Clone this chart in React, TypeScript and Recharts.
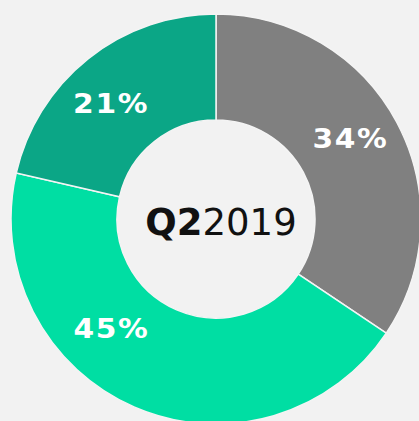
import React from "react";
import { PieChart, Pie, Cell, Label } from "recharts";

const categories = ["A", "B", "C"];
const values = [34.4, 44.2, 21.4];
const labels = ["34%", "45%", "21%"];
const colors = ["#808080", "#00dea3", "#0ba686"];
const labelAngleShift = [3.1, -20.6, 3.9];
const labelRadius = [156, 152, 157];

const data = categories.map((name, i) => ({ name, value: values[i] }));

const RADIAN = Math.PI / 180;

const renderLabel = (props: any) => {
  const { cx, cy, midAngle, index } = props;
  const r = labelRadius[index];
  const a = (midAngle + labelAngleShift[index]) * RADIAN;
  const x = cx + r * Math.cos(a);
  const y = cy - r * Math.sin(a);
  return (
    <text
      x={0}
      y={0}
      transform={`translate(${x + 1}, ${y + 10}) scale(1.1, 1)`}
      textAnchor="middle"
      fill="#ffffff"
      fontFamily="DejaVu Sans, Verdana, sans-serif"
      fontWeight="bold"
      fontSize={27}
      letterSpacing={1.5}
    >
      {labels[index]}
    </text>
  );
};

const CenterLabel = (props: any) => {
  const vb = props.viewBox || {};
  const cx = vb.cx ?? 216;
  const cy = vb.cy ?? 219;
  return (
    <text
      x={cx + 5}
      y={cy + 16}
      textAnchor="middle"
      fontFamily="DejaVu Sans, Verdana, sans-serif"
      fontSize={37}
      fill="#111111"
    >
      <tspan fontWeight="bold">Q2</tspan>
      <tspan>2019</tspan>
    </text>
  );
};

export default function App() {
  return (
    <div
      style={{
        position: "absolute",
        left: 0,
        top: 0,
        width: 419,
        height: 421,
        background: "#f2f2f2",
        overflow: "hidden",
      }}
    >
      <PieChart width={419} height={421} margin={{ top: 0, right: 0, bottom: 0, left: 0 }}>
        <Pie
          data={data}
          dataKey="value"
          nameKey="name"
          cx={216}
          cy={219}
          innerRadius={99}
          outerRadius={205}
          startAngle={90}
          endAngle={-270}
          stroke="#f4f4f4"
          strokeWidth={1.5}
          label={renderLabel}
          labelLine={false}
          isAnimationActive={false}
        >
          {data.map((d, i) => (
            <Cell key={d.name} fill={colors[i]} />
          ))}
          <Label position="center" content={<CenterLabel />} />
        </Pie>
      </PieChart>
    </div>
  );
}
